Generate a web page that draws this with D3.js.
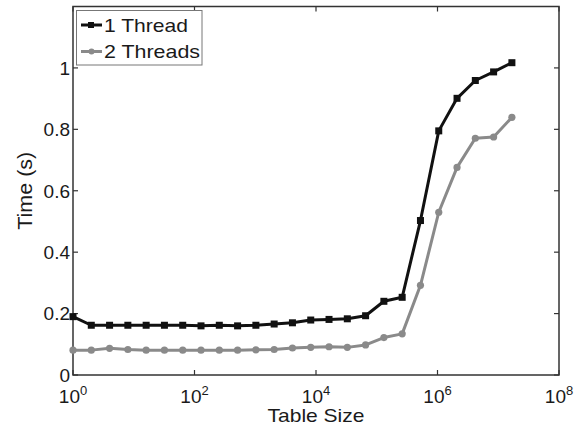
<!DOCTYPE html>
<html><head><meta charset="utf-8">
<script src="https://cdn.jsdelivr.net/npm/d3@7"></script>
<style>body{margin:0;background:#fff}svg{display:block;font-family:"Liberation Sans",Arial,sans-serif}</style>
</head><body><div id="chart"></div>
<script>
const tableSizes = d3.range(0, 25).map(i => Math.pow(2, i)); // 2^0 .. 2^24
const oneThread = [0.190,0.162,0.162,0.162,0.162,0.162,0.162,0.160,0.162,0.160,0.162,0.166,0.170,0.179,0.181,0.183,0.193,0.240,0.253,0.503,0.795,0.901,0.959,0.987,1.017];
const twoThreads = [0.081,0.081,0.087,0.083,0.081,0.081,0.081,0.081,0.081,0.081,0.082,0.083,0.088,0.090,0.092,0.090,0.098,0.122,0.134,0.292,0.530,0.676,0.771,0.775,0.839];
const xTickExps = [0,2,4,6,8];
const yTicks = [0,0.2,0.4,0.6,0.8,1];
const seriesNames = ["1 Thread","2 Threads"];

const W=585,H=428, L=73,R=559,T=6.5,B=375;
const svg=d3.select("#chart").append("svg").attr("width",W).attr("height",H);
const x=d3.scaleLog().domain([1,1e8]).range([L,R]);
const y=d3.scaleLinear().domain([0,1.2]).range([B,T]);
const axisCol="#333", txtCol="#1a1a1a";

svg.append("rect").attr("x",L).attr("y",T).attr("width",R-L).attr("height",B-T)
  .attr("fill","none").attr("stroke",axisCol).attr("stroke-width",1.5);

const tl=5;
xTickExps.forEach(e=>{
  const xv=x(Math.pow(10,e));
  svg.append("line").attr("x1",xv).attr("x2",xv).attr("y1",B).attr("y2",B-tl).attr("stroke",axisCol).attr("stroke-width",1.2);
  svg.append("line").attr("x1",xv).attr("x2",xv).attr("y1",T).attr("y2",T+tl).attr("stroke",axisCol).attr("stroke-width",1.2);
  const t=svg.append("text").attr("x",xv).attr("y",403).attr("text-anchor","middle").attr("font-size",19).attr("fill",txtCol);
  t.append("tspan").text("10");
  t.append("tspan").attr("dy",-8).attr("font-size",13).text(e);
});
yTicks.forEach(v=>{
  const yv=y(v);
  svg.append("line").attr("x1",L).attr("x2",L+tl).attr("y1",yv).attr("y2",yv).attr("stroke",axisCol).attr("stroke-width",1.2);
  svg.append("line").attr("x1",R).attr("x2",R-tl).attr("y1",yv).attr("y2",yv).attr("stroke",axisCol).attr("stroke-width",1.2);
  svg.append("text").attr("x",L-3).attr("y",yv).attr("dy","0.36em").attr("text-anchor","end").attr("font-size",19).attr("fill",txtCol).text(d3.format("")(v));
});

svg.append("text").attr("x",(L+R)/2).attr("y",422).attr("text-anchor","middle").attr("font-size",19).attr("fill",txtCol)
  .attr("textLength",97).attr("lengthAdjust","spacingAndGlyphs").text("Table Size");
svg.append("text").attr("transform",`translate(32,${(T+B)/2}) rotate(-90)`).attr("text-anchor","middle").attr("font-size",20).attr("fill",txtCol)
  .attr("textLength",78).attr("lengthAdjust","spacingAndGlyphs").text("Time (s)");

const line=d3.line().x((d,i)=>x(tableSizes[i])).y(d=>y(d));
const cols=["#111","#8a8a8a"];
[oneThread,twoThreads].forEach((s,k)=>{
  svg.append("path").datum(s).attr("d",line).attr("fill","none").attr("stroke",cols[k]).attr("stroke-width",3).attr("stroke-linejoin","round");
  const g=svg.append("g");
  if(k===0){
    g.selectAll("rect").data(s).join("rect").attr("x",(d,i)=>x(tableSizes[i])-3.5).attr("y",d=>y(d)-3.5).attr("width",7).attr("height",7).attr("fill",cols[k]);
  } else {
    g.selectAll("circle").data(s).join("circle").attr("cx",(d,i)=>x(tableSizes[i])).attr("cy",d=>y(d)).attr("r",3.6).attr("fill",cols[k]);
  }
});

const lg=svg.append("g");
lg.append("rect").attr("x",76.5).attr("y",10.5).attr("width",125.5).attr("height",54.5).attr("fill","#fff").attr("stroke","#777").attr("stroke-width",1);
const legLens=[84,96];
seriesNames.forEach((n,k)=>{
  const yy=k===0?25:51.5;
  lg.append("line").attr("x1",81).attr("x2",102).attr("y1",yy).attr("y2",yy).attr("stroke",cols[k]).attr("stroke-width",3);
  if(k===0) lg.append("rect").attr("x",88).attr("y",yy-3).attr("width",6).attr("height",6).attr("fill",cols[k]);
  else lg.append("circle").attr("cx",91.5).attr("cy",yy).attr("r",3).attr("fill",cols[k]);
  lg.append("text").attr("x",104).attr("y",yy).attr("dy","0.36em").attr("font-size",19).attr("fill",txtCol)
    .attr("textLength",legLens[k]).attr("lengthAdjust","spacingAndGlyphs").text(n);
});
</script></body></html>
